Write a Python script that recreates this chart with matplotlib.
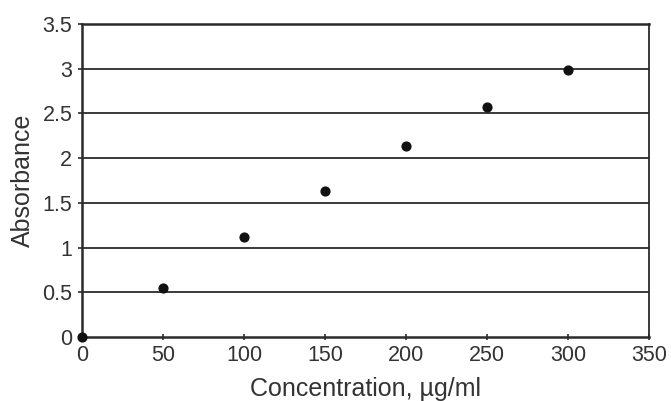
import matplotlib
matplotlib.use("Agg")
import matplotlib.pyplot as plt

plt.rcParams['font.family'] = ['Liberation Sans', 'DejaVu Sans']

# data
concentration = [0, 50, 100, 150, 200, 250, 300]
absorbance = [0.0, 0.55, 1.12, 1.63, 2.14, 2.57, 2.99]

x_ticks = [0, 50, 100, 150, 200, 250, 300, 350]
y_ticks = [0, 0.5, 1, 1.5, 2, 2.5, 3, 3.5]
y_labels = ['0', '0.5', '1', '1.5', '2', '2.5', '3', '3.5']

fig = plt.figure(figsize=(6.71, 4.01), dpi=100)
ax = fig.add_axes([82 / 671, 1 - 337 / 401, (649 - 82) / 671, (337 - 24) / 401])

for y in y_ticks[1:-1]:
    ax.axhline(y, color='#2b2b2b', lw=1.3, zorder=1)

ax.scatter(concentration, absorbance, s=40, color='#111111', zorder=3, clip_on=False)

ax.set_xlim(0, 350)
ax.set_ylim(0, 3.5)
ax.set_xticks(x_ticks)
ax.set_yticks(y_ticks)
ax.set_yticklabels(y_labels)

for side in ['left', 'bottom', 'top']:
    ax.spines[side].set_linewidth(1.8)
    ax.spines[side].set_color('#2b2b2b')
ax.spines['right'].set_linewidth(1.3)
ax.spines['right'].set_color('#2b2b2b')

ax.tick_params(axis='x', direction='inout', length=5, width=1.2, colors='#2b2b2b',
               labelsize=15.5, labelcolor='#333333', pad=3)
ax.tick_params(axis='y', direction='out', length=3, width=1.2, colors='#2b2b2b',
               labelsize=15.5, labelcolor='#333333', pad=4)

ax.set_xlabel('Concentration, µg/ml', fontsize=18, color='#333333', labelpad=8)
ax.set_ylabel('Absorbance', fontsize=18, color='#333333', labelpad=5)

fig.savefig('out.png', dpi=100, facecolor='white')
